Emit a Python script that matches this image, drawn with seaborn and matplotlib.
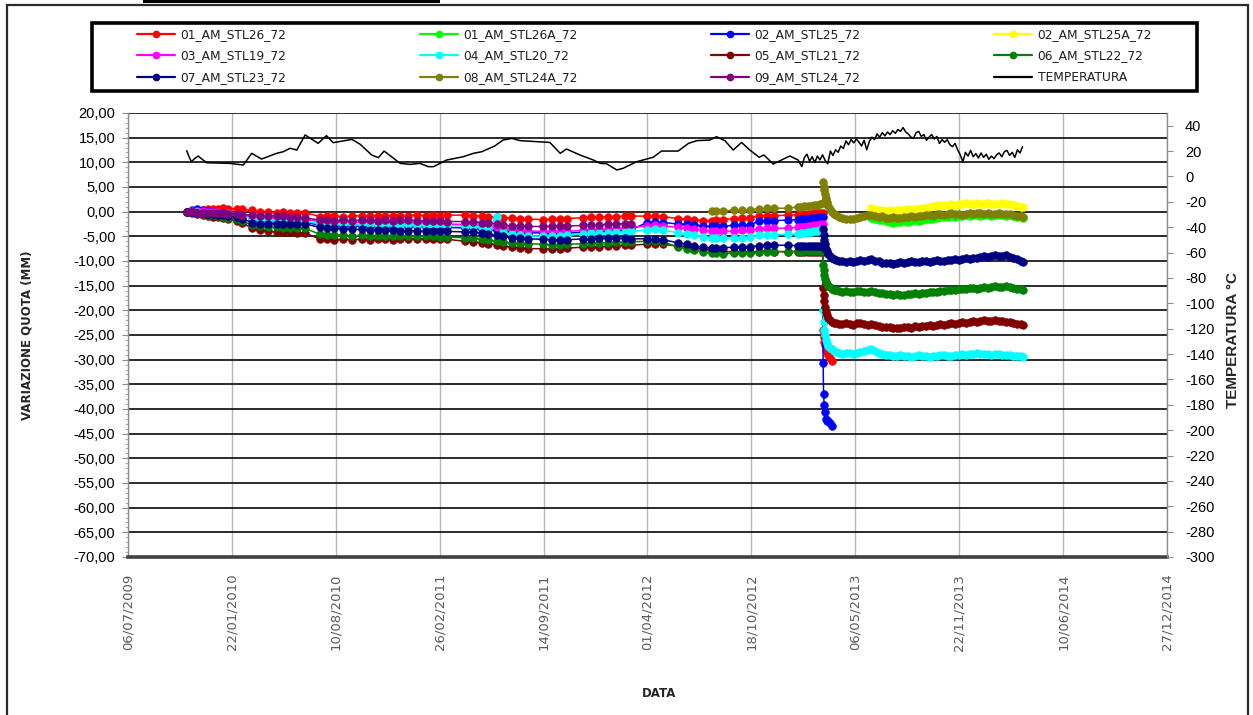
import pandas as pd
import matplotlib
matplotlib.use("Agg")
import matplotlib.pyplot as plt
import matplotlib.dates as mdates
from matplotlib.lines import Line2D
from matplotlib.patches import Rectangle
from matplotlib.ticker import FixedLocator, MultipleLocator, FuncFormatter
import seaborn as sns

# ---------------------------------------------------------------- survey dates
survey_dates_pre = [
    "2009-10-28", "2009-11-06", "2009-11-16", "2009-11-27", "2009-12-07", "2009-12-17",
    "2009-12-26", "2010-01-05", "2010-01-14", "2010-02-01", "2010-02-10",
    "2010-03-02", "2010-03-17", "2010-04-02", "2010-04-19", "2010-04-30", "2010-05-14",
    "2010-05-27", "2010-06-12",
    "2010-07-11", "2010-07-24", "2010-08-07", "2010-08-24", "2010-09-10", "2010-09-29",
    "2010-10-15", "2010-10-30", "2010-11-13", "2010-11-28", "2010-12-12", "2010-12-27",
    "2011-01-13", "2011-01-31", "2011-02-13", "2011-02-27", "2011-03-12",
    "2011-04-16", "2011-05-01", "2011-05-18", "2011-05-30", "2011-06-16", "2011-06-28",
    "2011-07-15", "2011-07-31", "2011-08-15",
    "2011-09-13", "2011-09-30", "2011-10-16", "2011-10-29",
    "2011-11-29", "2011-12-14", "2011-12-30", "2012-01-16", "2012-01-31", "2012-02-18",
    "2012-02-29",
    "2012-03-31", "2012-04-15", "2012-05-01",
    "2012-05-30", "2012-06-16", "2012-06-30", "2012-07-17",
    "2012-08-03", "2012-08-11", "2012-08-24", "2012-09-15", "2012-09-30", "2012-10-15",
    "2012-11-02", "2012-11-17", "2012-12-01", "2012-12-28",
    "2013-01-16", "2013-01-22", "2013-01-28", "2013-02-03", "2013-02-09", "2013-02-15",
    "2013-02-21", "2013-02-27", "2013-03-04",
]
survey_dates_post = [
    "2013-03-05", "2013-03-06", "2013-03-07", "2013-03-08", "2013-03-10", "2013-03-12",
    "2013-03-15", "2013-03-18", "2013-03-22", "2013-03-26", "2013-03-30",
    "2013-04-04", "2013-04-11", "2013-04-18", "2013-04-25", "2013-05-02", "2013-05-09",
    "2013-05-16", "2013-05-23", "2013-05-30",
    "2013-06-06", "2013-06-13", "2013-06-20", "2013-06-27", "2013-07-04", "2013-07-11",
    "2013-07-18", "2013-07-25",
    "2013-08-01", "2013-08-08", "2013-08-15", "2013-08-22", "2013-08-29", "2013-09-05",
    "2013-09-12", "2013-09-19", "2013-09-26",
    "2013-10-03", "2013-10-10", "2013-10-17", "2013-10-24", "2013-10-31", "2013-11-07",
    "2013-11-14", "2013-11-21", "2013-11-28",
    "2013-12-05", "2013-12-12", "2013-12-19", "2013-12-26", "2014-01-02", "2014-01-09",
    "2014-01-16", "2014-01-23", "2014-01-30",
    "2014-02-06", "2014-02-13", "2014-02-20", "2014-02-27", "2014-03-06", "2014-03-13",
    "2014-03-20", "2014-03-25",
]
survey_dates = survey_dates_pre + survey_dates_post

# ---------------------------------------------------------------- settlements (mm)
stl26_72 = [
    0.0, 0.2, 0.3, 0.4, 0.5, 0.6, 0.6, 0.7, 0.6, 0.6, 0.5,
    0.3, 0.0, -0.1, -0.2, -0.1, -0.2, -0.2, -0.2,
    -1.0, -0.9, -0.9, -1.0, -0.9, -0.8, -0.9, -0.8, -0.9, -0.8, -0.9, -0.8, -0.7, -0.8, -0.7, -0.8, -0.7,
    -0.7, -0.8, -0.9, -1.0, -1.1, -1.2, -1.3, -1.4, -1.5,
    -1.6, -1.5, -1.5, -1.4,
    -1.2, -1.1, -1.1, -1.0, -1.0, -0.9, -0.9,
    -0.9, -0.9, -1.0,
    -1.4, -1.5, -1.6, -1.8,
    -1.8, -1.7, -1.6, -1.4, -1.3, -1.2,
    -0.9, -0.8, -0.8, -0.7,
    -0.6, -0.5, -0.5, -0.4, -0.4, -0.3, -0.3, -0.2, -0.3,
    -24.0, -25.5, -26.4, -27.0, -27.8, -28.4, -29.1, -29.6, -30.2,
]
stl26a_72 = [
    -1.2, -1.4, -1.6, -1.7, -1.9, -2.0, -2.2, -2.0, -2.1, -1.9, -2.0, -1.8, -1.7, -1.8,
    -1.6, -1.5, -1.4, -1.5, -1.2, -1.1, -1.0, -1.1, -0.9, -1.0, -0.8, -0.9, -0.7, -0.8,
    -0.7, -0.6, -0.8, -0.7, -0.6, -0.8, -0.7, -0.6, -0.7, -0.8, -0.7, -0.9, -1.0, -1.1, -1.2,
]
stl25_72 = [
    0.0, 0.3, 0.5, 0.3, 0.1, -0.1, -0.2, -0.3, -0.4, -0.6, -0.8,
    -1.3, -1.6, -1.8, -1.9, -2.0, -2.0, -2.1, -2.1,
    -2.8, -2.8, -2.9, -2.9, -3.0, -2.9, -3.0, -3.0, -3.1, -3.0, -3.0, -3.1, -3.0, -3.1, -3.1, -3.2, -3.2,
    -3.3, -3.4, -3.5, -3.6, -3.8, -3.9, -4.1, -4.2, -4.3,
    -4.3, -4.4, -4.4, -4.3,
    -4.2, -4.2, -4.1, -4.0, -3.9, -3.8, -3.7,
    -2.2, -2.1, -2.2,
    -2.5, -2.6, -2.7, -2.9,
    -3.0, -2.9, -2.9, -2.8, -2.7, -2.7,
    -1.9, -1.8, -1.8, -1.7,
    -1.6, -1.5, -1.5, -1.4, -1.3, -1.3, -1.2, -1.1, -1.0,
    -30.6, -37.0, -39.1, -40.7, -42.0, -42.5, -42.4, -42.9, -43.4,
]
stl25a_72 = [
    0.8, 0.6, 0.4, 0.3, 0.2, 0.3, 0.2, 0.3, 0.4, 0.3, 0.5, 0.4, 0.6, 0.5, 0.7, 0.8,
    1.0, 1.1, 1.3, 1.2, 1.4, 1.3, 1.5, 1.4, 1.6, 1.5, 1.7, 1.6, 1.5, 1.7, 1.6, 1.5,
    1.7, 1.6, 1.5, 1.6, 1.7, 1.5, 1.6, 1.4, 1.2, 1.0, 0.9,
]
stl19_72 = [
    0.0, 0.1, 0.2, 0.1, 0.0, -0.1, -0.1, -0.2, -0.3, -0.5, -0.7,
    -1.0, -1.2, -1.3, -1.4, -1.4, -1.5, -1.5, -1.6,
    -2.0, -2.0, -2.1, -2.1, -2.2, -2.1, -2.2, -2.2, -2.3, -2.2, -2.3, -2.2, -2.3, -2.3, -2.4, -2.4, -2.5,
    -2.6, -2.7, -2.9, -3.0, -3.2, -3.4, -3.6, -3.8, -3.9,
    -4.0, -4.0, -4.1, -4.0,
    -3.8, -3.7, -3.6, -3.5, -3.4, -3.3, -3.2,
    -2.9, -2.8, -2.9,
    -3.2, -3.4, -3.5, -3.7,
    -3.9, -4.0, -4.0, -3.9, -3.8, -3.7,
    -3.5, -3.4, -3.4, -3.3,
    -3.2, -3.1, -3.1, -3.0, -2.9, -2.8, -2.7, -2.6, -2.5,
]
stl20_72 = [
    0.0, 0.0, -0.1, -0.2, -0.2, -0.3, -0.3, -0.4, -0.5, -0.7, -0.9,
    -1.3, -1.5, -1.6, -1.7, -1.8, -1.8, -1.9, -2.0,
    -2.4, -2.4, -2.5, -2.5, -2.6, -2.5, -2.6, -2.6, -2.7, -2.6, -2.7, -2.6, -2.7, -2.7, -2.8, -2.8, -2.8,
    -2.9, -3.0, -3.2, -3.4, -1.0, -4.2, -4.6, -4.8, -4.9,
    -5.0, -5.0, -4.9, -4.8,
    -4.5, -4.4, -4.4, -4.3, -4.2, -4.1, -4.0,
    -3.7, -3.6, -3.7,
    -4.3, -4.6, -4.8, -5.1,
    -5.3, -5.4, -5.4, -5.3, -5.3, -5.2,
    -4.8, -4.7, -4.7, -4.6,
    -4.5, -4.4, -4.3, -4.2, -4.1, -4.0, -3.9, -3.8, -3.7,
    -20.0, -22.4, -24.0, -25.0, -26.0, -26.6, -27.2, -27.6, -27.9, -28.2, -28.4,
    -28.6, -28.8, -28.7, -28.6, -28.8, -28.7, -28.5, -28.3, -28.1,
    -27.9, -28.2, -28.6, -28.9, -29.1, -29.0, -29.2, -29.3,
    -29.1, -29.3, -29.2, -29.4, -29.3, -29.1, -29.3, -29.2, -29.4,
    -29.3, -29.2, -29.0, -29.1, -29.3, -29.2, -29.0, -29.1, -28.9,
    -29.0, -28.8, -28.9, -28.7, -28.9, -28.8, -28.9, -29.0, -28.8,
    -28.9, -29.1, -29.0, -29.1, -29.2, -29.3, -29.2, -29.4,
]
stl21_72 = [
    0.0, -0.2, -0.4, -0.6, -0.8, -1.0, -1.1, -1.3, -1.5, -1.8, -2.2,
    -3.4, -3.8, -4.0, -4.1, -4.2, -4.2, -4.3, -4.3,
    -5.6, -5.6, -5.7, -5.6, -5.7, -5.6, -5.7, -5.6, -5.6, -5.7, -5.6, -5.6, -5.5, -5.6, -5.5, -5.6, -5.6,
    -6.0, -6.1, -6.3, -6.5, -6.7, -7.0, -7.2, -7.4, -7.5,
    -7.5, -7.6, -7.5, -7.4,
    -7.2, -7.1, -7.1, -7.0, -6.9, -6.8, -6.8,
    -6.6, -6.5, -6.6,
    -7.0, -7.1, -7.3, -7.6,
    -7.9, -8.0, -8.1, -8.1, -8.2, -8.2,
    -8.1, -8.0, -8.1, -8.1,
    -8.1, -8.2, -8.1, -8.2, -8.1, -8.2, -8.2, -8.1, -8.2,
    -15.5, -16.8, -18.2, -19.3, -20.3, -21.0, -21.6, -22.0, -22.3, -22.5, -22.6,
    -22.7, -22.8, -22.6, -22.7, -22.9, -22.6, -22.5, -22.8, -22.9,
    -22.7, -22.9, -23.1, -23.3, -23.4, -23.3, -23.6, -23.5,
    -23.6, -23.4, -23.3, -23.5, -23.2, -23.3, -23.1, -23.2, -23.0,
    -23.1, -22.9, -22.8, -22.9, -22.7, -22.6, -22.7, -22.5, -22.4,
    -22.5, -22.3, -22.2, -22.4, -22.2, -22.0, -22.2, -22.1, -22.0,
    -22.2, -22.1, -22.3, -22.4, -22.6, -22.7, -22.8, -22.9,
]
stl22_72 = [
    0.0, -0.1, -0.3, -0.4, -0.6, -0.7, -0.8, -1.0, -1.2, -1.5, -1.8,
    -2.8, -3.0, -3.1, -3.2, -3.3, -3.3, -3.4, -3.4,
    -4.6, -4.7, -4.8, -4.8, -4.9, -4.8, -4.9, -4.9, -5.0, -4.9, -5.0, -4.9, -5.0, -5.0, -5.0, -5.1, -5.1,
    -5.3, -5.4, -5.6, -5.8, -6.0, -6.2, -6.3, -6.4, -6.5,
    -6.6, -6.7, -6.7, -6.6,
    -6.5, -6.4, -6.4, -6.3, -6.2, -6.2, -6.1,
    -6.0, -6.0, -6.1,
    -7.2, -7.5, -7.8, -8.2,
    -8.4, -8.4, -8.5, -8.4, -8.3, -8.3,
    -8.2, -8.1, -8.1, -8.1,
    -8.0, -8.1, -8.0, -8.0, -7.9, -8.0, -7.9, -8.0, -8.0,
    -10.8, -11.9, -12.9, -13.6, -14.2, -14.6, -15.0, -15.3, -15.6, -15.8, -15.9,
    -16.0, -16.2, -16.1, -16.3, -16.2, -16.0, -16.1, -16.3, -16.2,
    -16.0, -16.2, -16.4, -16.5, -16.7, -16.6, -16.8, -16.7,
    -16.9, -16.8, -16.6, -16.7, -16.5, -16.6, -16.4, -16.5, -16.3,
    -16.2, -16.3, -16.0, -16.1, -15.9, -15.8, -15.9, -15.7, -15.6,
    -15.7, -15.5, -15.4, -15.6, -15.4, -15.3, -15.5, -15.2, -15.1,
    -15.3, -15.2, -15.0, -15.3, -15.4, -15.6, -15.7, -15.8,
]
stl23_72 = [
    0.0, -0.1, -0.2, -0.3, -0.4, -0.5, -0.6, -0.7, -0.8, -1.1, -1.4,
    -2.2, -2.4, -2.4, -2.5, -2.5, -2.5, -2.6, -2.5,
    -3.2, -3.3, -3.4, -3.5, -3.6, -3.6, -3.7, -3.7, -3.8, -3.8, -3.9, -3.9, -3.9, -4.0, -4.0, -4.0, -4.0,
    -4.1, -4.2, -4.4, -4.6, -4.8, -5.0, -5.3, -5.4, -5.5,
    -5.6, -5.7, -5.8, -5.7,
    -5.5, -5.5, -5.4, -5.4, -5.4, -5.4, -5.5,
    -5.5, -5.6, -5.7,
    -6.3, -6.6, -6.9, -7.2,
    -7.4, -7.4, -7.3, -7.2, -7.1, -7.1,
    -6.9, -6.8, -6.8, -6.8,
    -6.9, -7.0, -6.9, -7.0, -7.0, -6.9, -7.0, -7.0, -7.1,
    -3.5, -4.8, -5.8, -6.6, -7.5, -8.0, -8.6, -9.0, -9.3, -9.6, -9.8,
    -10.0, -10.1, -10.2, -10.1, -10.2, -10.0, -9.8, -9.9, -9.7,
    -9.6, -9.9, -10.1, -10.4, -10.5, -10.4, -10.6, -10.5,
    -10.3, -10.4, -10.2, -10.1, -10.3, -10.2, -10.0, -10.1, -10.2,
    -10.0, -9.8, -9.9, -10.0, -9.8, -9.7, -9.6, -9.8, -9.6,
    -9.4, -9.5, -9.3, -9.4, -9.2, -9.0, -9.1, -8.9, -8.8,
    -8.9, -9.0, -8.8, -9.1, -9.3, -9.6, -9.9, -10.2,
]
stl24a_72 = [
    0.1, 0.1, 0.2, 0.3, 0.3, 0.4, 0.6, 0.7, 0.7, 0.7,
    1.0, 1.0, 1.1, 1.1, 1.2, 1.3, 1.4, 1.6, 1.8,
    6.0, 5.1, 4.3, 3.6, 2.7, 2.0, 1.2, 0.6, 0.0, -0.4, -0.7,
    -1.0, -1.2, -1.4, -1.5, -1.4, -1.2, -1.0, -0.8, -0.7,
    -0.6, -0.8, -1.0, -0.9, -1.2, -1.3, -1.1, -1.3,
    -1.2, -1.0, -1.1, -0.9, -1.0, -0.8, -0.9, -0.7, -0.6,
    -0.8, -0.5, -0.4, -0.6, -0.5, -0.3, -0.5, -0.4, -0.6,
    -0.4, -0.3, -0.4, -0.2, -0.3, -0.4, -0.3, -0.5, -0.4,
    -0.3, -0.4, -0.5, -0.4, -0.6, -0.8, -0.9, -1.0,
]
stl24_72 = [
    0.0, -0.1, -0.2, -0.2, -0.2, -0.3, -0.3, -0.3, -0.4, -0.5, -0.6,
    -0.7, -0.8, -0.8, -0.9, -0.9, -1.0, -1.1, -1.3,
    -1.7, -1.7, -1.8, -1.7, -1.8, -1.7, -1.7, -1.8, -1.7, -1.8, -1.7, -1.7, -1.8, -1.8, -1.9, -1.9, -2.0,
    -2.0, -2.1, -2.2, -2.3, -2.5, -2.7, -2.9, -2.9, -3.0,
    -3.0, -3.0, -2.9, -2.9,
    -2.8, -2.7, -2.7, -2.6, -2.5, -2.4, -2.4,
]

# ---------------------------------------------------------------- air temperature (°C)
temp_dates = [
    "2009-10-27", "2009-11-01", "2009-11-05", "2009-11-12", "2009-11-18", "2009-12-04",
    "2010-01-18", "2010-02-13", "2010-03-01", "2010-03-20", "2010-04-18", "2010-05-01",
    "2010-05-14", "2010-05-27", "2010-06-12", "2010-07-07", "2010-07-23", "2010-08-05",
    "2010-09-10", "2010-09-26", "2010-10-18", "2010-10-31", "2010-11-11", "2010-12-12",
    "2010-12-31", "2011-01-19", "2011-02-04", "2011-02-14", "2011-03-11", "2011-04-12",
    "2011-05-02", "2011-05-18", "2011-06-12", "2011-06-28", "2011-07-15", "2011-07-31",
    "2011-09-26", "2011-10-16", "2011-10-28", "2011-11-23", "2011-12-19", "2012-01-01",
    "2012-01-13", "2012-02-02", "2012-02-14", "2012-03-11", "2012-04-12", "2012-04-28",
    "2012-05-30", "2012-06-19", "2012-07-05", "2012-07-30", "2012-08-12", "2012-08-28",
    "2012-09-13", "2012-09-29", "2012-10-15", "2012-11-02", "2012-11-11", "2012-11-29",
    "2012-12-31", "2013-01-16",
]
temp_values = [
    20.3, 15.1, 11.6, 14.3, 16.1, 10.8,
    10.3, 9.0, 18.2, 13.7, 18.2, 19.5,
    22.2, 20.8, 32.7, 26.1, 32.1, 26.6,
    29.2, 25.3, 16.9, 14.8, 20.0, 10.3,
    9.5, 10.3, 7.7, 7.7, 12.9, 15.5,
    18.2, 19.5, 24.0, 28.7, 30.0, 28.2,
    26.8, 18.2, 21.6, 16.9, 12.9, 10.3,
    10.0, 5.1, 6.4, 11.6, 15.1, 20.0,
    20.0, 26.1, 28.2, 28.7, 31.3, 28.2,
    20.8, 26.8, 20.8, 15.1, 16.9, 9.8,
    16.1, 12.9,
]
# automatic station readings every 5 days from 23/01/2013
temp_auto_start = "2013-01-23"
temp_auto_values = [
    7.7, 15.0, 17.5, 12.0, 15.5, 11.0, 16.0, 13.0, 17.0, 12.5,
    10.0, 20.0, 16.5, 21.0, 19.0, 24.0, 22.0, 28.0, 25.0, 29.0,
    26.5, 29.5, 27.0, 24.0, 28.5, 21.0, 27.5, 31.0, 29.0, 33.5,
    31.0, 34.5, 32.0, 35.0, 33.0, 36.0, 34.0, 37.0, 35.5, 38.5,
    35.0, 33.5, 31.0, 30.0, 34.5, 35.5, 31.5, 33.0, 28.5, 31.0,
    33.0, 29.5, 31.5, 26.0, 29.0, 27.0, 29.0, 25.0, 23.5, 26.0,
    21.0, 17.0, 11.5, 19.0, 16.0, 20.5, 15.5, 18.0, 14.5, 18.5,
    15.0, 17.5, 13.5, 16.0, 14.0, 17.0, 18.5, 15.5, 19.5, 20.5,
    16.5, 19.0, 15.0, 21.0, 18.5, 23.5,
]

series = [
    ("01_AM_STL26_72", "#FF0000", "2009-10-28", stl26_72),
    ("01_AM_STL26A_72", "#00FF00", "2013-06-06", stl26a_72),
    ("02_AM_STL25_72", "#0000FF", "2009-10-28", stl25_72),
    ("02_AM_STL25A_72", "#FFFF00", "2013-06-06", stl25a_72),
    ("03_AM_STL19_72", "#FF00FF", "2009-10-28", stl19_72),
    ("04_AM_STL20_72", "#00FFFF", "2009-10-28", stl20_72),
    ("05_AM_STL21_72", "#800000", "2009-10-28", stl21_72),
    ("06_AM_STL22_72", "#008000", "2009-10-28", stl22_72),
    ("07_AM_STL23_72", "#000080", "2009-10-28", stl23_72),
    ("08_AM_STL24A_72", "#808000", "2012-08-03", stl24a_72),
    ("09_AM_STL24_72", "#800080", "2009-10-28", stl24_72),
]

# ---------------------------------------------------------------- figure
sns.set_style("white")
plt.rcParams["font.family"] = ["Liberation Sans", "DejaVu Sans"]

W, H = 1253, 715
fig = plt.figure(figsize=(W / 100, H / 100), dpi=100)
fig.patch.set_facecolor("white")

x0, x1, y_top, y_bot = 128, 1167, 113, 557
ax = fig.add_axes([x0 / W, 1 - y_bot / H, (x1 - x0) / W, (y_bot - y_top) / H])

for i, (label, color, first, vals) in enumerate(series):
    i0 = survey_dates.index(first)
    frame = pd.DataFrame({
        "data": pd.to_datetime(survey_dates[i0:i0 + len(vals)]),
        "quota": vals,
    })
    sns.lineplot(data=frame, x="data", y="quota", ax=ax, color=color,
                 marker="o", markersize=5.6, markeredgecolor=color,
                 markeredgewidth=0.4, linewidth=1.1, estimator=None,
                 sort=False, legend=False, zorder=3 + i)

ax.set_xlim(pd.Timestamp("2009-07-06"), pd.Timestamp("2014-12-27"))
ax.set_ylim(-70, 20)
x_ticks = pd.date_range("2009-07-06", "2014-12-27", freq="200D")
ax.xaxis.set_major_locator(FixedLocator(mdates.date2num(x_ticks)))
ax.xaxis.set_major_formatter(mdates.DateFormatter("%d/%m/%Y"))
ax.yaxis.set_major_locator(MultipleLocator(5))
ax.yaxis.set_minor_locator(MultipleLocator(1))
ax.yaxis.set_major_formatter(FuncFormatter(lambda v, p: f"{v:.2f}".replace(".", ",")))

ax.grid(axis="y", which="major", color="#1a1a1a", linewidth=1.3)
ax.grid(axis="x", which="major", color="#b4b4b4", linewidth=1.0)
ax.set_axisbelow(True)

for side in ("top", "right"):
    ax.spines[side].set_visible(False)
ax.spines["left"].set_color("#8c8c8c")
ax.spines["left"].set_linewidth(1.0)
ax.spines["bottom"].set_color("#404040")
ax.spines["bottom"].set_linewidth(2.6)

ax.tick_params(axis="y", which="major", direction="out", length=4, width=0.8,
               color="#8c8c8c", labelsize=10.5, labelcolor="black", pad=5)
ax.tick_params(axis="y", which="minor", direction="out", length=2, width=0.6,
               color="#a0a0a0")
ax.tick_params(axis="x", which="major", direction="out", length=4, width=0.8,
               color="#8c8c8c", labelsize=9.5, labelcolor="#5a5a5a", pad=8,
               labelrotation=90)
for lbl in ax.get_xticklabels():
    lbl.set_fontfamily("DejaVu Sans")

ax.set_xlabel("DATA", fontsize=8.5, fontweight="bold", fontfamily="DejaVu Sans")
ax.xaxis.set_label_coords((659 - x0) / (x1 - x0), -(687 - y_bot) / (y_bot - y_top))
ax.set_ylabel("VARIAZIONE QUOTA (MM)", fontsize=8.5, fontweight="bold",
              fontfamily="DejaVu Sans")
ax.yaxis.set_label_coords(-(x0 - 34) / (x1 - x0), 0.5)

# ---------------------------------------------------------------- temperature axis
ax2 = ax.twinx()
temp = pd.DataFrame({
    "data": list(pd.to_datetime(temp_dates))
    + list(pd.date_range(temp_auto_start, periods=len(temp_auto_values), freq="5D")),
    "t": temp_values + temp_auto_values,
})
sns.lineplot(data=temp, x="data", y="t", ax=ax2, color="black", linewidth=1.1,
             estimator=None, sort=False, legend=False)
ax2.set_ylim(-300, 50)
ax2.yaxis.set_major_locator(FixedLocator(list(range(-300, 41, 20))))
ax2.yaxis.set_major_formatter(FuncFormatter(lambda v, p: f"{int(round(v))}"))
ax2.grid(False)
for side in ("top", "left", "bottom"):
    ax2.spines[side].set_visible(False)
ax2.spines["right"].set_color("#8c8c8c")
ax2.spines["right"].set_linewidth(1.0)
ax2.tick_params(axis="y", direction="out", length=4, width=0.8, color="#8c8c8c",
                labelsize=10.5, labelcolor="black", pad=9)
ax2.set_ylabel("TEMPERATURA °C", fontsize=11, fontweight="bold", rotation=90)
ax2.yaxis.set_label_coords((1226 - x0) / (x1 - x0), (y_bot - 340) / (y_bot - y_top))
ax2.set_xlim(ax.get_xlim())

# ---------------------------------------------------------------- legend
handles = [Line2D([], [], color=c, marker="o", markersize=4.5, markeredgecolor=c,
                  linewidth=1.6) for _, c, _, _ in series]
labels = [s[0] for s in series]
handles.append(Line2D([], [], color="black", linewidth=1.6))
labels.append("TEMPERATURA")
# legend fills column-wise, so reorder to read row by row in four columns
order = [0, 4, 8, 1, 5, 9, 2, 6, 10, 3, 7, 11]
leg = fig.legend([handles[k] for k in order], [labels[k] for k in order],
                 ncol=4, loc="center", mode="expand",
                 bbox_to_anchor=(137 / W, 1 - 90 / H, (1152 - 137) / W, 68 / H),
                 frameon=False, handlelength=3.1, handletextpad=0.45,
                 labelspacing=0.68, borderpad=0.0, borderaxespad=0.0,
                 prop={"family": "DejaVu Sans", "size": 8.8})
for t in leg.get_texts():
    t.set_color("#1e1e1e")

# legend frame, outer border and the title strip above
fig.patches.append(Rectangle((92 / W, 1 - 91 / H), (1197 - 92) / W, (91 - 23) / H,
                             transform=fig.transFigure, fill=False,
                             edgecolor="black", linewidth=2.6, zorder=5))
fig.patches.append(Rectangle((7 / W, -0.02), (1248 - 7) / W, 1 - 5 / H + 0.02,
                             transform=fig.transFigure, fill=False,
                             edgecolor="#2a2a2a", linewidth=1.6, zorder=5))
fig.patches.append(Rectangle((143 / W, 1 - 3 / H), (440 - 143) / W, 3 / H,
                             transform=fig.transFigure, facecolor="black",
                             edgecolor="none", zorder=5))

fig.savefig("out.png", dpi=100, facecolor="white")
